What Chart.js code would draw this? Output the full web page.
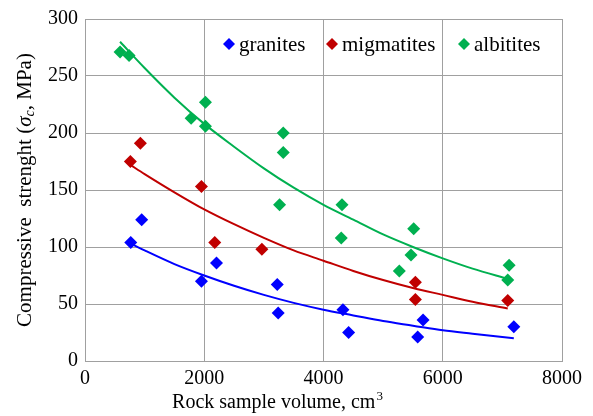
<!DOCTYPE html>
<html>
<head>
<meta charset="utf-8">
<script src="https://cdn.jsdelivr.net/npm/chart.js@4/dist/chart.umd.min.js"></script>
<style>
  html, body { margin: 0; padding: 0; background: #fff; }
  #wrap { width: 593px; height: 416px; position: relative; }
</style>
</head>
<body>
<div id="wrap"><canvas id="strengthChart"></canvas></div>
<script>
  // values
  var graniteX = [767, 951, 1953, 2205, 3224, 3240, 4326, 4421, 5580, 5670, 7192];
  var graniteY = [104, 124, 70, 86, 67, 42, 45, 25, 21, 36, 30];
  var migmatiteX = [761, 929, 1953, 2176, 2966, 5541, 5541, 7090];
  var migmatiteY = [175, 191, 153, 104, 98, 69, 54, 53];
  var albititeX = [588, 739, 1780, 2020, 2020, 3263, 3325, 3325, 4298, 4310, 5272, 5468, 5513, 7090, 7113];
  var albititeY = [271, 268, 213, 227, 206, 137, 200, 183, 108, 137, 79, 93, 116, 71, 84];

  // trend curves, read at points along each line
  var graniteTrendX = [767, 1000, 1500, 2000, 2500, 3000, 3500, 4000, 4500, 5000, 5500, 6000, 6500, 7192];
  var graniteTrendY = [103, 97, 85, 75, 66, 58, 51, 45, 40, 35, 31, 27, 24, 20];
  var migmatiteTrendX = [761, 1000, 1500, 2000, 2500, 3000, 3500, 4000, 4500, 5000, 5500, 6000, 6500, 7090];
  var migmatiteTrendY = [172, 164, 148, 133, 120, 108, 97, 88, 79, 71, 64, 58, 52, 46];
  var albititeTrendX = [588, 1000, 1500, 2000, 2500, 3000, 3500, 4000, 4500, 5000, 5500, 6000, 6500, 7090];
  var albititeTrendY = [280, 257, 231, 208, 188, 169, 152, 137, 124, 111, 100, 90, 81, 72];

  var xTicks = [0, 2000, 4000, 6000, 8000];
  var yTicks = [0, 50, 100, 150, 200, 250, 300];
  var seriesNames = ["granites", "migmatites", "albitites"];

  var BLUE = "#0000ff";
  var RED = "#c00000";
  var GREEN = "#00b050";
  var SERIF = "'Liberation Serif', 'Times New Roman', serif";

  function pairs(xs, ys) {
    return xs.map(function (x, i) {
      return { x: x, y: ys[i] };
    });
  }

  function pointSet(label, xs, ys, color) {
    return {
      label: label,
      data: pairs(xs, ys),
      backgroundColor: color,
      borderColor: color,
      borderWidth: 0,
      pointStyle: "rectRot",
      pointRadius: 6.5,
      order: 0,
    };
  }

  function trendSet(xs, ys, color) {
    return {
      label: "trend",
      data: pairs(xs, ys),
      showLine: true,
      borderColor: color,
      borderWidth: 2,
      pointRadius: 0,
      cubicInterpolationMode: "monotone",
      fill: false,
      order: 1,
    };
  }

  // axis titles and the in-plot legend row, drawn by hand
  var axisTitles = {
    id: "axisTitles",
    afterDraw: function (chart) {
      var ctx = chart.ctx;
      ctx.save();
      ctx.fillStyle = "#000";
      ctx.textBaseline = "middle";
      ctx.textAlign = "left";

      // legend row inside the plot
      var legendX = [229, 332, 464];
      chart.data.datasets.forEach(function (ds, i) {
        if (ds.label === "trend") return;
        var cx = legendX[i];
        ctx.fillStyle = ds.backgroundColor;
        ctx.beginPath();
        ctx.moveTo(cx, 38);
        ctx.lineTo(cx + 6, 44);
        ctx.lineTo(cx, 50);
        ctx.lineTo(cx - 6, 44);
        ctx.closePath();
        ctx.fill();
        ctx.fillStyle = "#000";
        ctx.font = "21px " + SERIF;
        ctx.fillText(ds.label, cx + 10, 45);
      });

      // x title
      var main = "Rock sample volume, cm";
      ctx.font = "20px " + SERIF;
      var w1 = ctx.measureText(main).width;
      ctx.font = "13px " + SERIF;
      var w2 = ctx.measureText("3").width;
      var x0 = 277 - (w1 + w2) / 2;
      ctx.font = "20px " + SERIF;
      ctx.fillText(main, x0, 403);
      ctx.font = "13px " + SERIF;
      ctx.fillText("3", x0 + w1 + 1, 397);

      // y title, rotated
      var parts = [
        { t: "Compressive  strenght (", f: "21px " + SERIF, dy: 0 },
        { t: "σ", f: "italic 21px " + SERIF, dy: 0 },
        { t: "c", f: "italic 14px " + SERIF, dy: 5 },
        { t: ", MPa)", f: "21px " + SERIF, dy: 0 },
      ];
      var total = 0;
      parts.forEach(function (p) {
        ctx.font = p.f;
        p.w = ctx.measureText(p.t).width;
        total += p.w;
      });
      ctx.translate(25, 190);
      ctx.rotate(-Math.PI / 2);
      var px = -total / 2;
      parts.forEach(function (p) {
        ctx.font = p.f;
        ctx.fillText(p.t, px, p.dy);
        px += p.w;
      });
      ctx.restore();
    },
  };

  function plainTick(v) {
    return String(v);
  }

  new Chart(document.getElementById("strengthChart"), {
    type: "scatter",
    data: {
      datasets: [
        pointSet(seriesNames[0], graniteX, graniteY, BLUE),
        pointSet(seriesNames[1], migmatiteX, migmatiteY, RED),
        pointSet(seriesNames[2], albititeX, albititeY, GREEN),
        trendSet(graniteTrendX, graniteTrendY, BLUE),
        trendSet(migmatiteTrendX, migmatiteTrendY, RED),
        trendSet(albititeTrendX, albititeTrendY, GREEN),
      ],
    },
    options: {
      responsive: true,
      maintainAspectRatio: false,
      animation: false,
      layout: { padding: { top: 16, right: 31, left: 0, bottom: 0 } },
      plugins: {
        tooltip: { enabled: false },
        legend: { display: false },
      },
      scales: {
        x: {
          type: "linear",
          min: 0,
          max: 8000,
          afterBuildTicks: function (scale) {
            scale.ticks = xTicks.map(function (v) {
              return { value: v };
            });
          },
          afterFit: function (scale) {
            scale.height = 55;
          },
          grid: { color: "#a0a0a0", lineWidth: 1, drawTicks: false },
          border: { color: "#a0a0a0" },
          ticks: {
            color: "#000",
            padding: 6,
            maxRotation: 0,
            callback: plainTick,
            font: { family: SERIF, size: 20 },
          },
        },
        y: {
          type: "linear",
          min: 0,
          max: 300,
          afterBuildTicks: function (scale) {
            scale.ticks = yTicks.map(function (v) {
              return { value: v };
            });
          },
          afterFit: function (scale) {
            scale.width = 85;
          },
          grid: { color: "#a0a0a0", lineWidth: 1, drawTicks: false },
          border: { color: "#a0a0a0" },
          ticks: {
            color: "#000",
            padding: 7,
            callback: plainTick,
            font: { family: SERIF, size: 20 },
          },
        },
      },
    },
    plugins: [axisTitles],
  });
</script>
</body>
</html>
